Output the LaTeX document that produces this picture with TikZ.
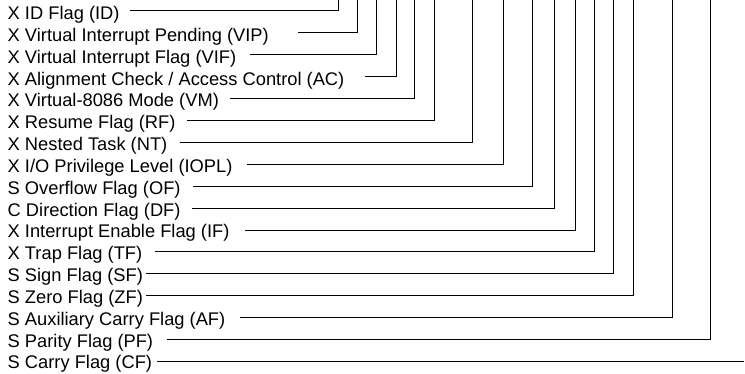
\documentclass[tikz,border=0pt]{standalone}
\usepackage{fontspec}
\setmainfont{Liberation Sans}
\begin{document}
\begin{tikzpicture}[x=1pt,y=-1pt,
  flag/.style={anchor=base west, inner sep=0pt, font=\fontsize{18.3}{22}\selectfont},
  wire/.style={line width=1pt}]
\useasboundingbox (0,0) rectangle (745,373);
\foreach \n/\t/\i/\sx/\vx in {
  ID/{X ID Flag (ID)}/0/130/338.5,
  VIP/{X Virtual Interrupt Pending (VIP)}/1/298/357.3,
  VIF/{X Virtual Interrupt Flag (VIF)}/2/250/376.5,
  AC/{X Alignment Check / Access Control (AC)}/3/365/396,
  VM/{X Virtual-8086 Mode (VM)}/4/230/414.7,
  RF/{X Resume Flag (RF)}/5/187/434.3,
  NT/{X Nested Task (NT)}/6/180/472.3,
  IOPL/{X I/O Privilege Level (IOPL)}/7/247/503.3,
  OF/{S Overflow Flag (OF)}/8/193/532.3,
  DF/{C Direction Flag (DF)}/9/192/554.3,
  IF/{X Interrupt Enable Flag (IF)}/10/245/575.3,
  TF/{X Trap Flag (TF)}/11/155/594.3,
  SF/{S Sign Flag (SF)}/12/146/613.3,
  ZF/{S Zero Flag (ZF)}/13/146/633.3,
  AF/{S Auxiliary Carry Flag (AF)}/14/240/672.3,
  PF/{S Parity Flag (PF)}/15/167/710.5}{
  \pgfmathsetmacro{\yy}{10.6+\i*21.94}
  \pgfmathsetmacro{\yb}{19.7+\i*21.82}
  \node[flag] (l\n) at (7.5,\yb) {\t};
  \coordinate (s\n) at (\sx,\yy);
  \coordinate (t\n) at (\vx,0);
  \draw[wire] (s\n) -| (t\n);
}
\pgfmathsetmacro{\yc}{10.6+16*21.94}
\pgfmathsetmacro{\ycb}{19.7+16*21.82}
\node[flag] (lCF) at (7.5,\ycb) {S Carry Flag (CF)};
\coordinate (sCF) at (157,\yc);
\coordinate (tCF) at (744.3,\yc);
\draw[wire] (sCF) -- (tCF);
\end{tikzpicture}
\end{document}
